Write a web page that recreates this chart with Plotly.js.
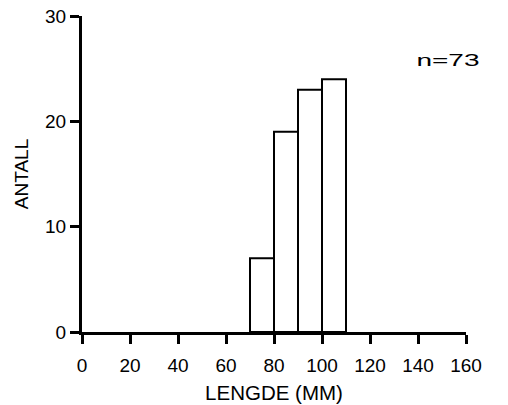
<!DOCTYPE html>
<html>
<head>
<meta charset="utf-8">
<script src="https://cdn.plot.ly/plotly-3.0.1.min.js"></script>
<style>html,body{margin:0;padding:0;background:#fff;}#chart{width:508px;height:405px;}</style>
</head>
<body>
<div id="chart"></div>
<script>
// Histogram bins (lower edges, mm) and counts
const binStarts = [70, 80, 90, 100];
const binWidth = 10;
const counts = [7, 19, 23, 24];
const xTickVals = [0, 20, 40, 60, 80, 100, 120, 140, 160];
const yTickVals = [0, 10, 20, 30];
const xTitle = "LENGDE (MM)";
const yTitle = "ANTALL";
const noteText = "n=73";

const trace = {
  type: "bar",
  x: binStarts,
  y: counts,
  width: binStarts.map(() => binWidth),
  offset: 0,
  marker: { color: "#ffffff", line: { color: "#000000", width: 2 } },
  hoverinfo: "x+y"
};

const font = { family: "Liberation Sans, Arial, sans-serif", size: 19, color: "#000" };

const layout = {
  width: 508, height: 405,
  margin: { l: 82, r: 42, t: 16, b: 73 },
  paper_bgcolor: "#fff", plot_bgcolor: "#fff",
  showlegend: false,
  font: font,
  bargap: 0,
  xaxis: {
    range: [0, 160], tickvals: xTickVals, ticktext: xTickVals.map(String),
    showgrid: false, zeroline: false, showline: true, linewidth: 3, linecolor: "#000",
    ticks: "outside", ticklen: 9, tickwidth: 3, tickcolor: "#000",
    ticklabelstandoff: 5,
    tickfont: font,
    title: { text: xTitle, font: { family: font.family, size: 20.5, color: "#000" }, standoff: 11 }
  },
  yaxis: {
    range: [0, 30], tickvals: yTickVals, ticktext: yTickVals.map(String),
    showgrid: false, zeroline: false, showline: true, linewidth: 3, linecolor: "#000",
    ticks: "outside", ticklen: 9, tickwidth: 3, tickcolor: "#000",
    tickfont: font,
    title: { text: yTitle, font: { family: font.family, size: 19, color: "#000" }, standoff: 12 }
  },
  annotations: [{
    text: noteText, xref: "paper", yref: "paper", x: 0.954, y: 0.86,
    xanchor: "center", yanchor: "middle", showarrow: false,
    font: { family: font.family, size: 16, color: "#000" }
  }]
};

Plotly.newPlot("chart", [trace], layout, { displayModeBar: false, staticPlot: true }).then(function () {
  // stretch the "n=73" note horizontally as in the reference
  document.querySelectorAll(".annotation-text").forEach(function (t) {
    const bb = t.getBBox();
    const cx = bb.x + bb.width / 2;
    t.setAttribute("transform", "translate(" + cx + ",0) scale(1.75,1) translate(" + (-cx) + ",0)");
  });
});
</script>
</body>
</html>
